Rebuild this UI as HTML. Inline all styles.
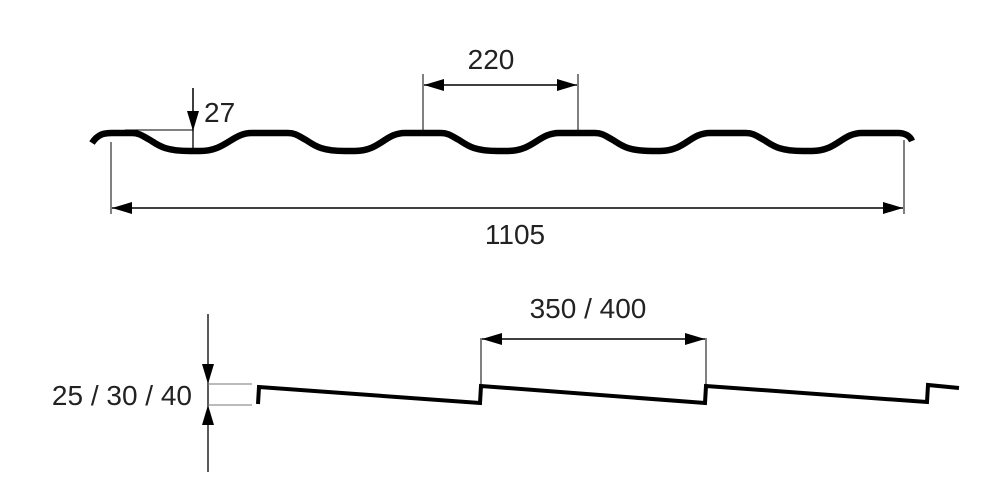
<!DOCTYPE html>
<html><head><meta charset="utf-8"><style>
html,body{margin:0;padding:0;background:#fff;}
svg{display:block}
text{font-family:"Liberation Sans",sans-serif;font-size:28px;fill:#222}
</style></head><body>
<svg width="1000" height="500" viewBox="0 0 1000 500" xmlns="http://www.w3.org/2000/svg">
<defs>
<marker id="a" viewBox="0 0 20 12" refX="20" refY="6" markerWidth="20" markerHeight="12" markerUnits="userSpaceOnUse" orient="auto-start-reverse"><path d="M0 0L20 6L0 12Z" fill="#000"/></marker>
</defs>
<!-- top profile -->
<path d="M92 143 C98 134,104 133,112 133 L132 133
C140 133,144 137,150 140 C158 145,164 151,190 151 L200 151 C226 151,232 133,252 133 L288 133
C296 133,300 137,306 140 C314 145,320 151,345 151 L355 151 C380 151,385 133,405 133 L441 133
C449 133,453 137,459 140 C467 145,473 151,498 151 L508 151 C533 151,539 133,559 133 L595 133
C603 133,607 137,613 140 C621 145,627 151,652 151 L660 151 C685 151,690 133,710 133 L746 133
C754 133,758 137,764 140 C772 145,778 151,803 151 L812 151 C837 151,842 133,862 133 L898 133
C905 133,910 136,912 141" fill="none" stroke="#000" stroke-width="6.5" stroke-linejoin="round"/>
<!-- 27 -->
<line x1="193" y1="88" x2="193" y2="150" stroke="#000" stroke-width="1.3"/>
<line x1="193" y1="88" x2="193" y2="131" stroke="#000" stroke-width="1.3" marker-end="url(#a)"/>
<line x1="125" y1="130" x2="193" y2="130" stroke="#000" stroke-width="1"/>
<text x="204" y="122">27</text>
<!-- 220 -->
<line x1="423" y1="74" x2="423" y2="132" stroke="#000" stroke-width="1"/>
<line x1="578" y1="74" x2="578" y2="132" stroke="#000" stroke-width="1"/>
<line x1="424" y1="85" x2="577" y2="85" stroke="#000" stroke-width="1.5" marker-start="url(#a)" marker-end="url(#a)"/>
<text x="491" y="69" text-anchor="middle">220</text>
<!-- 1105 -->
<line x1="111" y1="142" x2="111" y2="214" stroke="#000" stroke-width="1"/>
<line x1="904" y1="140" x2="904" y2="214" stroke="#000" stroke-width="1"/>
<line x1="112" y1="208" x2="903" y2="208" stroke="#000" stroke-width="1.5" marker-start="url(#a)" marker-end="url(#a)"/>
<text x="515" y="244" text-anchor="middle">1105</text>
<!-- bottom profile -->
<path d="M258 404 L259 387 L480 403 L481 386 L705 403 L706 386 L927 402 L928 385 L959 388" fill="none" stroke="#000" stroke-width="4" stroke-linejoin="miter"/>
<!-- 350/400 -->
<line x1="481" y1="338" x2="481" y2="385" stroke="#000" stroke-width="1"/>
<line x1="706" y1="338" x2="706" y2="385" stroke="#000" stroke-width="1"/>
<line x1="482" y1="339" x2="705" y2="339" stroke="#000" stroke-width="1.5" marker-start="url(#a)" marker-end="url(#a)"/>
<text x="588" y="318" text-anchor="middle">350 / 400</text>
<!-- 25/30/40 -->
<line x1="208" y1="314" x2="208" y2="384" stroke="#000" stroke-width="1.3" marker-end="url(#a)"/>
<line x1="208" y1="472" x2="208" y2="405" stroke="#000" stroke-width="1.3" marker-end="url(#a)"/>
<line x1="208" y1="384" x2="208" y2="405" stroke="#000" stroke-width="1.3"/>
<line x1="208" y1="384" x2="252" y2="384" stroke="#777" stroke-width="1"/>
<line x1="208" y1="405" x2="252" y2="405" stroke="#777" stroke-width="1"/>
<text x="192" y="405" text-anchor="end">25 / 30 / 40</text>
</svg>
</body></html>
